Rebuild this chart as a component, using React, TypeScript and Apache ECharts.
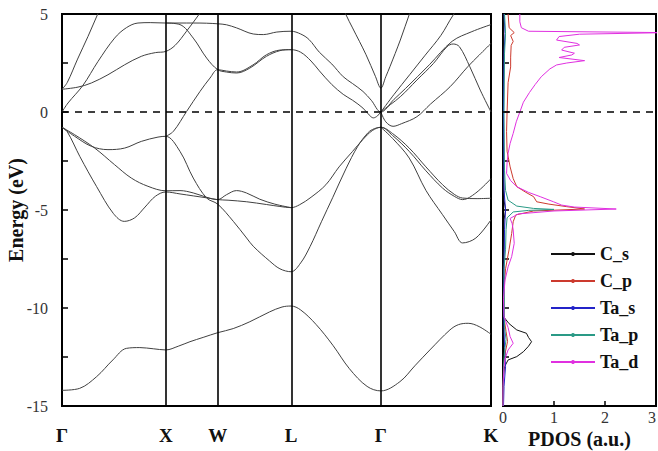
import React, { useEffect, useRef } from "react";
import * as echarts from "echarts";

// High-symmetry path (k distance, 2π/a units) and labels
const kTicks = [0, 1, 1.5, 2.207, 3.073, 4.134];
const kLabels = ["Γ", "X", "W", "L", "Γ", "K"];
const energyTicksLabeled = [-15, -10, -5, 0, 5];

// Band lines: [k, E(eV)]
const bandCs = [[0,-14.2],[0.17,-14.1],[0.334,-13.5],[0.49,-12.65],[0.62,-12.06],[0.75,-12.02],[0.88,-12.08],[1,-12.14],[1.12,-11.95],[1.233,-11.72],[1.36,-11.5],[1.5,-11.26],[1.65,-11.05],[1.81,-10.7],[2.0,-10.2],[2.12,-9.95],[2.207,-9.9],[2.3,-10.1],[2.45,-10.85],[2.61,-11.9],[2.77,-13.1],[2.94,-14.0],[3.073,-14.23],[3.256,-13.76],[3.4,-12.95],[3.545,-12.14],[3.738,-11.12],[3.82,-10.85],[3.914,-10.78],[4.02,-10.95],[4.134,-11.34]];
const bandV1 = [[0,-0.78],[0.05,-1.0],[0.173,-2.28],[0.334,-3.81],[0.494,-5.17],[0.6,-5.58],[0.7,-5.4],[0.8,-4.85],[0.9,-4.3],[1.0,-4.08],[1.137,-4.18],[1.265,-4.28],[1.394,-4.38],[1.5,-4.47],[1.6,-4.5],[1.78,-4.58],[1.97,-4.72],[2.1,-4.82],[2.207,-4.88],[2.29,-4.73],[2.4,-4.35],[2.543,-3.71],[2.67,-2.8],[2.8,-2.01],[2.9,-1.4],[2.99,-0.95],[3.073,-0.78],[3.186,-1.1],[3.346,-1.84],[3.507,-2.8],[3.667,-3.71],[3.78,-4.2],[3.86,-4.39],[4.0,-4.42],[4.134,-4.4]];
const bandV2 = [[0,-0.78],[0.122,-1.16],[0.315,-1.84],[0.507,-2.69],[0.668,-3.37],[0.828,-3.79],[1.0,-4.02],[1.137,-4.01],[1.265,-4.13],[1.394,-4.35],[1.5,-4.47],[1.585,-4.22],[1.681,-4.01],[1.777,-4.13],[1.906,-4.45],[2.05,-4.7],[2.207,-4.88]];
const bandV3 = [[0,-0.78],[0.122,-1.24],[0.283,-1.75],[0.443,-1.92],[0.604,-1.84],[0.764,-1.5],[0.925,-1.28],[1.0,-1.24],[1.137,-2.01],[1.265,-3.37],[1.394,-4.39],[1.5,-4.7],[1.651,-5.58],[1.779,-6.43],[1.843,-6.85],[2.0,-7.6],[2.1,-8.0],[2.207,-8.15],[2.3,-7.7],[2.39,-6.87],[2.5,-5.6],[2.61,-4.35],[2.736,-2.9],[2.85,-1.75],[2.95,-1.05],[3.01,-0.85],[3.073,-0.78],[3.186,-1.2],[3.346,-2.01],[3.507,-3.0],[3.667,-3.88],[3.78,-4.3],[3.86,-4.47],[3.988,-4.13],[4.134,-3.4]];
const bandV4 = [[3.073,-0.78],[3.186,-1.35],[3.346,-2.35],[3.507,-4.0],[3.667,-5.24],[3.78,-6.1],[3.86,-6.68],[3.988,-6.43],[4.134,-5.5]];
const bandC1 = [[0,1.16],[0.154,1.27],[0.283,1.48],[0.443,1.9],[0.604,2.41],[0.764,2.84],[0.9,3.03],[1.0,3.09],[1.09,3.4],[1.2,4.12],[1.33,5.05],[1.4,5.6]];
const bandC2 = [[0,1.16],[0.05,1.5],[0.15,2.7],[0.25,3.85],[0.347,5.03],[0.4,5.65]];
const bandC3 = [[0,0],[0.058,0.46],[0.202,1.36],[0.347,2.58],[0.507,3.77],[0.62,4.3],[0.732,4.54],[0.85,4.56],[1.0,4.54],[1.137,4.54],[1.265,4.54],[1.394,4.53],[1.5,4.5],[1.585,4.45],[1.683,4.29],[1.843,3.98],[1.94,3.95],[2.07,4.08],[2.207,4.12],[2.3,3.98],[2.38,3.7],[2.48,3.05],[2.6,2.45],[2.71,1.8],[2.8,1.45],[2.9,1.05],[2.98,0.6],[3.073,0],[3.2,0.65],[3.31,1.2],[3.54,2.41],[3.76,3.61],[3.95,4.1],[4.134,4.46]];
const bandC4 = [[1.0,4.54],[1.137,4.46],[1.265,3.77],[1.394,2.75],[1.5,2.16],[1.585,2.04],[1.683,1.99],[1.81,2.24],[1.97,2.84],[2.1,3.13],[2.207,3.18],[2.3,3.05],[2.4,2.6],[2.48,2.1],[2.6,1.4],[2.71,0.9],[2.8,0.6],[2.9,0.2],[2.96,-0.15],[3.0,-0.3],[3.04,-0.2],[3.073,0],[3.26,0.78],[3.42,1.63],[3.58,2.48],[3.71,3.33],[3.77,3.47],[3.83,3.33],[3.93,2.31],[4.03,1.12],[4.134,0]];
const bandC5 = [[1.0,-1.24],[1.073,-0.99],[1.201,0.03],[1.33,1.05],[1.426,1.73],[1.5,2.16],[1.585,2.09],[1.683,2.04],[1.84,2.4],[1.97,2.92],[2.1,3.16],[2.207,3.18]];
const bandC6 = [[2.7,5.5],[2.736,4.97],[2.8,4.29],[2.93,2.92],[3.02,1.82],[3.073,1.22],[3.12,1.8],[3.16,2.31],[3.26,3.67],[3.35,5.03],[3.4,5.7]];
const bandC7 = [[3.073,0],[3.2,0.9],[3.35,1.9],[3.5,2.9],[3.65,3.9],[3.77,4.95],[3.85,5.5]];
const bandC8 = [[3.073,0],[3.12,-0.5],[3.19,-0.73],[3.27,-0.6],[3.42,-0.24],[3.55,0.4],[3.74,1.29],[3.91,2.31],[4.02,2.9],[4.134,3.5]];
const bandLines = [bandCs, bandV1, bandV2, bandV3, bandV4, bandC1, bandC2, bandC3, bandC4, bandC5, bandC6, bandC7, bandC8];

// PDOS curves: [E(eV), PDOS]
const pdosCs = [[5,0.01],[2,0.01],[0,0.01],[-3,0.01],[-4.5,0.02],[-5,0.05],[-5.5,0.02],[-8,0.01],[-10.44,0.01],[-10.8,0.12],[-11.12,0.27],[-11.29,0.46],[-11.5,0.5],[-11.72,0.56],[-11.95,0.5],[-12.23,0.4],[-12.48,0.27],[-12.65,0.1],[-13.0,0.03],[-13.5,0.01],[-15,0]];
const pdosCp = [[5,0.1],[4.3,0.12],[4.05,0.22],[3.9,0.15],[3.6,0.2],[3.4,0.16],[2.8,0.15],[2.3,0.15],[1.5,0.1],[0,0.08],[-1,0.07],[-2,0.08],[-2.8,0.14],[-3.4,0.2],[-3.81,0.27],[-4.1,0.45],[-4.32,0.6],[-4.58,0.66],[-4.7,0.9],[-4.83,1.25],[-4.95,1.6],[-5.05,0.6],[-5.25,0.25],[-5.6,0.2],[-6.2,0.17],[-7,0.12],[-8,0.05],[-9,0.02],[-10.5,0.02],[-11.2,0.06],[-11.7,0.09],[-12.2,0.05],[-13,0.01],[-15,0]];
const pdosTas = [[5,0.02],[4,0.04],[3,0.02],[0,0.01],[-4,0.02],[-5,0.05],[-6,0.03],[-8,0.02],[-10,0.01],[-12,0.03],[-13,0.05],[-14,0.02],[-15,0.01]];
const pdosTap = [[5,0.03],[4,0.05],[3,0.03],[0,0.02],[-3,0.03],[-4,0.05],[-4.5,0.1],[-4.8,0.27],[-4.92,0.6],[-4.97,1.0],[-5.02,0.5],[-5.1,0.2],[-5.4,0.08],[-6,0.06],[-7,0.05],[-8,0.02],[-11,0.03],[-11.6,0.06],[-12.2,0.03],[-13,0.01],[-15,0]];
const pdosTad = [[5,0.33],[4.6,0.33],[4.3,0.36],[4.12,0.5],[4.05,3.2],[3.97,1.5],[3.85,1.1],[3.67,1.05],[3.5,1.45],[3.42,1.5],[3.3,1.2],[3.16,1.15],[3.0,1.4],[2.91,1.35],[2.78,1.1],[2.62,1.6],[2.5,1.25],[2.4,1.05],[2.2,0.92],[1.8,0.75],[1.4,0.63],[1.0,0.52],[0.5,0.4],[0,0.33],[-0.5,0.26],[-1.09,0.2],[-1.6,0.14],[-2.1,0.1],[-2.6,0.08],[-3.13,0.07],[-3.5,0.15],[-3.81,0.27],[-4.1,0.5],[-4.32,0.73],[-4.58,0.99],[-4.75,1.15],[-4.85,1.4],[-4.95,2.22],[-5.05,1.0],[-5.2,0.3],[-5.43,0.14],[-5.7,0.18],[-6.02,0.2],[-6.7,0.22],[-7.38,0.17],[-7.9,0.1],[-8.57,0.04],[-9.5,0.01],[-10.44,0.02],[-11.0,0.1],[-11.46,0.14],[-11.8,0.2],[-12.14,0.1],[-12.6,0.04],[-13,0.02],[-14,0],[-15,0]];

const pdosNames = ["C_s", "C_p", "Ta_s", "Ta_p", "Ta_d"];
const pdosData = [pdosCs, pdosCp, pdosTas, pdosTap, pdosTad];
const pdosColors = ["#111111", "#cc3a2e", "#2323c8", "#2a9a86", "#e030e0"];

const SERIF = "Liberation Serif";

export default function App() {
  const ref = useRef<HTMLDivElement>(null);
  useEffect(() => {
    const chart = echarts.init(ref.current!, null, { renderer: "svg" });
    const bandSeries: any[] = bandLines.map((pts, i) => ({
      type: "line",
      xAxisIndex: 0,
      yAxisIndex: 0,
      data: pts,
      showSymbol: false,
      symbol: "none",
      smooth: 0.35,
      silent: true,
      lineStyle: { color: "#404040", width: 1 },
      z: 2,
      markLine: i === 0 ? {
        silent: true,
        symbol: ["none", "none"],
        label: { show: false },
        lineStyle: { color: "#000", width: 1.6, type: "solid" },
        data: [
          { xAxis: kTicks[1] },
          { xAxis: kTicks[2] },
          { xAxis: kTicks[3] },
          { xAxis: kTicks[4] },
          { yAxis: 0, lineStyle: { color: "#000", width: 1.6, type: [7, 6] } },
        ],
      } : undefined,
    }));
    const pdosSeries: any[] = pdosData.map((pts, i) => ({
      name: pdosNames[i],
      type: "line",
      xAxisIndex: 1,
      yAxisIndex: 1,
      data: pts.map(([e, v]) => [v, e]),
      showSymbol: false,
      symbol: "circle",
      symbolSize: 5,
      silent: true,
      color: pdosColors[i],
      lineStyle: { color: pdosColors[i], width: 1 },
      z: 3,
      markLine: i === 0 ? {
        silent: true,
        symbol: ["none", "none"],
        label: { show: false },
        lineStyle: { color: "#000", width: 1.6, type: [7, 6] },
        data: [{ yAxis: 0 }],
      } : undefined,
    }));
    const option: any = {
      animation: false,
      backgroundColor: "#fff",
      textStyle: { fontFamily: SERIF },
      legend: {
        data: pdosNames,
        orient: "vertical",
        left: 545,
        top: 240,
        itemWidth: 44,
        itemHeight: 5,
        itemGap: 9,
        textStyle: { fontFamily: SERIF, fontWeight: "bold", fontSize: 18, color: "#111" },
      },
      grid: [
        { left: 62, top: 14, width: 429, height: 392, show: true, borderColor: "#000", borderWidth: 2, backgroundColor: "transparent", outerBoundsMode: "none", containLabel: false },
        { left: 503, top: 14, width: 153, height: 392, show: true, borderColor: "#000", borderWidth: 2, backgroundColor: "transparent", outerBoundsMode: "none", containLabel: false },
      ],
      xAxis: [
        {
          type: "value", gridIndex: 0, min: kTicks[0], max: kTicks[kTicks.length - 1],
          axisLine: { show: false, onZero: false }, axisTick: { show: false }, splitLine: { show: false },
          axisLabel: {
            customValues: kTicks,
            formatter: (v: number) => {
              const i = kTicks.findIndex((t) => Math.abs(t - v) < 1e-6);
              return i >= 0 ? kLabels[i] : "";
            },
            fontFamily: SERIF, fontWeight: "bold", fontSize: 19, color: "#111", margin: 20,
          },
        },
        {
          type: "value", gridIndex: 1, min: 0, max: 3, interval: 1,
          axisLine: { show: false, onZero: false },
          axisTick: { show: true, inside: true, length: 5, lineStyle: { color: "#000", width: 1.5 } },
          splitLine: { show: false },
          axisLabel: { fontFamily: SERIF, fontSize: 16, color: "#333", margin: 3, alignMaxLabel: "right" },
          name: "PDOS (a.u.)", nameLocation: "middle", nameGap: 23, nameMoveOverlap: false,
          nameTextStyle: { fontFamily: SERIF, fontWeight: "bold", fontSize: 20, color: "#111" },
        },
      ],
      yAxis: [
        {
          type: "value", gridIndex: 0, min: -15, max: 5, interval: 2.5,
          axisLine: { show: false, onZero: false },
          axisTick: { show: true, inside: true, length: 6, lineStyle: { color: "#000", width: 1.5 } },
          splitLine: { show: false },
          axisLabel: {
            formatter: (v: number) => (energyTicksLabeled.indexOf(v) >= 0 ? String(v) : ""),
            fontFamily: SERIF, fontSize: 16, color: "#333", margin: 14,
          },
          name: "Energy (eV)", nameLocation: "middle", nameGap: 36, nameMoveOverlap: false,
          nameTextStyle: { fontFamily: SERIF, fontWeight: "bold", fontSize: 20, color: "#111" },
        },
        {
          type: "value", gridIndex: 1, min: -15, max: 5, interval: 2.5,
          axisLine: { show: false, onZero: false },
          axisTick: { show: true, inside: true, length: 6, lineStyle: { color: "#000", width: 1.5 } },
          splitLine: { show: false },
          axisLabel: { show: false },
        },
      ],
      series: [...bandSeries, ...pdosSeries],
    };
    chart.setOption(option);
    return () => chart.dispose();
  }, []);
  return <div ref={ref} style={{ position: "absolute", left: 0, top: 0, width: 658, height: 451, background: "#fff" }} />;
}
